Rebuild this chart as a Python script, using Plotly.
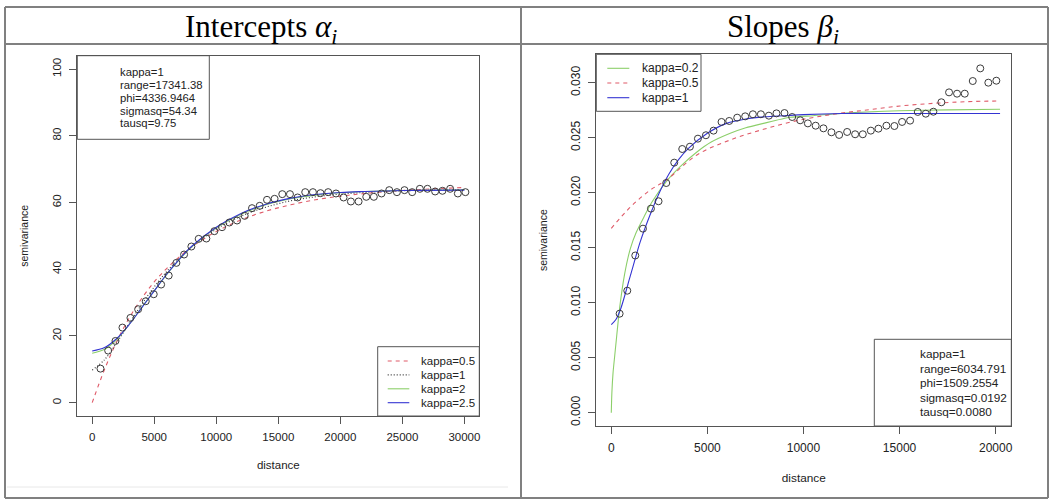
import plotly.graph_objects as go

# ---------------- data ----------------
# Left panel: intercepts, empirical semivariogram
left_lag = [668, 1288, 1876, 2440, 3084, 3704, 4316, 4960, 5556, 6167,
            6787, 7407, 7995, 8583, 9203, 9847, 10467, 11055, 11675, 12290,
            12880, 13500, 14090, 14700, 15320, 15940, 16555, 17170, 17790, 18400,
            19020, 19650, 20260, 20850, 21470, 22090, 22700, 23320, 23940, 24560,
            25170, 25790, 26410, 27020, 27640, 28230, 28850, 29470, 30080]
left_gamma = [10.2, 15.6, 18.5, 22.5, 25.4, 28.0, 30.4, 32.5, 35.4, 38.1,
              41.9, 44.4, 46.8, 49.1, 49.2, 51.4, 52.6, 54.0, 54.6, 56.0,
              58.3, 59.0, 60.8, 61.1, 62.5, 62.5, 61.5, 63.1, 63.1, 62.8,
              63.1, 62.7, 61.5, 60.3, 60.3, 61.7, 61.7, 62.7, 63.7, 63.1,
              63.7, 63.1, 64.1, 64.1, 63.3, 63.5, 64.1, 62.7, 63.1]

# Left panel fitted curves (values read at these distances)
left_curve_x = [0, 1000, 2000, 3000, 4000, 5000, 6000, 7000, 8000, 10000,
                12000, 14000, 16000, 18000, 20000, 22000, 25000, 30000]
left_k05 = [0, 10.0, 18.5, 25.5, 31.3, 36.2, 40.2, 43.6, 46.6, 51.3,
            54.8, 57.4, 59.3, 60.8, 61.9, 62.7, 63.6, 64.5]
left_k1 = [9.75, 12.9, 18.1, 23.9, 29.5, 34.7, 39.3, 43.2, 46.6, 52.0,
           55.9, 58.6, 60.5, 61.7, 62.5, 63.0, 63.5, 63.9]
left_k2 = [14.8, 16.0, 19.0, 23.5, 28.6, 33.5, 38.4, 42.8, 46.6, 52.4,
           56.5, 59.3, 61.1, 62.2, 62.9, 63.3, 63.6, 63.8]
left_k25 = [15.5, 16.5, 19.3, 23.5, 28.5, 33.5, 38.5, 42.9, 46.8, 52.6,
            56.7, 59.5, 61.3, 62.4, 63.0, 63.3, 63.6, 63.7]

# Right panel: slopes, empirical semivariogram
right_lag = [433, 832, 1248, 1648, 2064, 2460, 2860, 3276, 3692, 4092,
             4508, 4924, 5320, 5736, 6136, 6552, 6968, 7368, 7784, 8200,
             8596, 9012, 9412, 9828, 10228, 10635, 11040, 11456, 11856, 12272,
             12688, 13088, 13505, 13900, 14316, 14732, 15132, 15548, 15948, 16365,
             16760, 17176, 17576, 17992, 18393, 18809, 19200, 19620, 20036]
right_gamma = [0.0090, 0.01109, 0.01429, 0.01673, 0.01855, 0.01922, 0.02088, 0.02273, 0.02397, 0.02418,
               0.02491, 0.02522, 0.02564, 0.02643, 0.02652, 0.02682, 0.02694, 0.02713, 0.02713, 0.02700,
               0.02721, 0.02724, 0.02688, 0.02658, 0.02630, 0.02609, 0.02585, 0.02549, 0.02525, 0.02552,
               0.02531, 0.02531, 0.02564, 0.02582, 0.02609, 0.02606, 0.02643, 0.02655, 0.02734, 0.02718,
               0.02736, 0.02822, 0.02912, 0.02900, 0.02900, 0.03015, 0.03130, 0.03000, 0.03018]

# Right panel fitted curves
right_k02_x = [0, 30, 90, 180, 260, 433, 693, 988, 1300, 1700, 2100, 2900, 3600, 4456,
               5200, 6190, 7000, 7920, 9310, 10500, 12430, 15000, 17500, 20230]
right_k02_y = [0, 0.0018, 0.0036, 0.0052, 0.0066, 0.0095, 0.0126, 0.0149, 0.0164, 0.0178,
               0.0191, 0.0211, 0.0224, 0.0237, 0.0246, 0.0254, 0.0259, 0.0263, 0.02685,
               0.0270, 0.02727, 0.02745, 0.02753, 0.02758]
right_k05_x = [0, 1000, 2000, 2900, 4456, 6188, 7920, 9657, 11560, 13297, 15030, 16760, 18497, 20230]
right_k05_y = [0.01676, 0.0187, 0.0202, 0.0212, 0.02343, 0.02479, 0.02576, 0.02655, 0.02713,
               0.02752, 0.02788, 0.02812, 0.02827, 0.02834]
right_k1_x = [0, 250, 500, 1000, 1500, 2000, 2500, 3000, 3500, 4000, 5000, 6000, 7000, 8000,
              9000, 10000, 12000, 15000, 20230]
right_k1_y = [0.0080, 0.0085, 0.0095, 0.0125, 0.0155, 0.0179, 0.0200, 0.0217, 0.0230, 0.0240,
              0.0254, 0.0263, 0.0267, 0.0269, 0.0270, 0.0271, 0.0272, 0.0272, 0.0272]

left_ticks_x = [0, 5000, 10000, 15000, 20000, 25000, 30000]
left_ticks_y = [0, 20, 40, 60, 80, 100]
right_ticks_x = [0, 5000, 10000, 15000, 20000]
right_ticks_y = [0.000, 0.005, 0.010, 0.015, 0.020, 0.025, 0.030]

left_info = ["kappa=1", "range=17341.38", "phi=4336.9464", "sigmasq=54.34", "tausq=9.75"]
right_info = ["kappa=1", "range=6034.791", "phi=1509.2554", "sigmasq=0.0192", "tausq=0.0080"]

# ---------------- styling ----------------
W, H = 1053, 501
def px(x): return x / W
def py(y): return 1 - y / H

RED = "#df5a68"
GREEN = "#8ccf6a"
BLUE = "#3434d2"
DARK = "#3a3a3a"
AX = "#555555"
SANS = "Liberation Sans, Arial, sans-serif"
SERIF = "Liberation Serif, Times New Roman, serif"

fig = go.Figure()

pt_marker = dict(symbol="circle-open", size=7, color=DARK, line=dict(width=1, color=DARK))

# left panel
fig.add_trace(go.Scatter(x=left_curve_x, y=left_k05, mode="lines", line=dict(color=RED, width=1.1, dash="4px,4px", shape="spline"),
                         name="kappa=0.5", xaxis="x", yaxis="y", showlegend=False))
fig.add_trace(go.Scatter(x=left_curve_x, y=left_k1, mode="lines", line=dict(color="#333333", width=1.1, dash="1px,2px", shape="spline"),
                         name="kappa=1", xaxis="x", yaxis="y", showlegend=False))
fig.add_trace(go.Scatter(x=left_curve_x, y=left_k2, mode="lines", line=dict(color=GREEN, width=1.1, shape="spline"),
                         name="kappa=2", xaxis="x", yaxis="y", showlegend=False))
fig.add_trace(go.Scatter(x=left_curve_x, y=left_k25, mode="lines", line=dict(color=BLUE, width=1.1, shape="spline"),
                         name="kappa=2.5", xaxis="x", yaxis="y", showlegend=False))
fig.add_trace(go.Scatter(x=left_lag, y=left_gamma, mode="markers", marker=pt_marker,
                         name="empirical", xaxis="x", yaxis="y", showlegend=False))

# right panel
fig.add_trace(go.Scatter(x=right_k02_x, y=right_k02_y, mode="lines",
                         line=dict(color=GREEN, width=1.1, shape="spline", smoothing=0.6),
                         name="kappa=0.2", xaxis="x2", yaxis="y2", showlegend=False))
fig.add_trace(go.Scatter(x=right_k05_x, y=right_k05_y, mode="lines", line=dict(color=RED, width=1.1, dash="4px,4px", shape="spline"),
                         name="kappa=0.5", xaxis="x2", yaxis="y2", showlegend=False))
fig.add_trace(go.Scatter(x=right_k1_x, y=right_k1_y, mode="lines", line=dict(color=BLUE, width=1.1, shape="spline", smoothing=0.8),
                         name="kappa=1", xaxis="x2", yaxis="y2", showlegend=False))
fig.add_trace(go.Scatter(x=right_lag, y=right_gamma, mode="markers", marker=pt_marker,
                         name="empirical", xaxis="x2", yaxis="y2", showlegend=False))

def axis_common(fs):
    return dict(showline=True, mirror=True, linecolor=AX, linewidth=1,
                ticks="outside", ticklen=7, tickcolor=AX, tickwidth=1,
                showgrid=False, zeroline=False,
                tickfont=dict(family=SANS, size=fs, color="#222222"))

fig.update_layout(
    width=W, height=H, margin=dict(l=0, r=0, t=0, b=0),
    paper_bgcolor="white", plot_bgcolor="white", showlegend=False,
    xaxis=dict(domain=[px(77.3), px(479.3)], range=[-1200, 31200], anchor="y",
               tickvals=left_ticks_x, tickformat="d",
               title=dict(text="distance", font=dict(family=SANS, size=11.5, color="#222222"), standoff=19),
               ticklabelstandoff=3, **axis_common(11.5)),
    yaxis=dict(domain=[py(416), py(55.7)], range=[-4, 104], anchor="x",
               tickvals=left_ticks_y, tickangle=-90,
               title=dict(text="semivariance", font=dict(family=SANS, size=10.5, color="#222222"), standoff=20),
               ticklabelstandoff=4, **axis_common(11.5)),
    xaxis2=dict(domain=[px(596.3), px(1011.3)], range=[-780, 20815], anchor="y2",
                tickvals=right_ticks_x, tickformat="d",
                title=dict(text="distance", font=dict(family=SANS, size=11.8, color="#222222"), standoff=19),
                ticklabelstandoff=4, **axis_common(12)),
    yaxis2=dict(domain=[py(426), py(54.3)], range=[-0.00121, 0.03258], anchor="x2",
                tickvals=right_ticks_y, tickformat=".3f", tickangle=-90,
                title=dict(text="semivariance", font=dict(family=SANS, size=10.5, color="#222222"), standoff=18),
                ticklabelstandoff=4, **axis_common(12)),
)

shapes = []
def line(x0, y0, x1, y1, color, width, dash=None):
    d = dict(type="line", xref="paper", yref="paper", x0=px(x0), y0=py(y0), x1=px(x1), y1=py(y1),
             line=dict(color=color, width=width))
    if dash:
        d["line"]["dash"] = dash
    shapes.append(d)

def rect(x0, y0, x1, y1, color, width):
    shapes.append(dict(type="rect", xref="paper", yref="paper", x0=px(x0), y0=py(y1), x1=px(x1), y1=py(y0),
                       line=dict(color=color, width=width), fillcolor="rgba(0,0,0,0)"))

# table frame
TB = "#808080"
line(5, 7, 1048, 7, TB, 2)
line(5, 44, 1048, 44, TB, 2)
line(5, 498, 1048, 498, TB, 2)
line(5, 7, 5, 498, TB, 2)
line(521, 7, 521, 498, TB, 2)
line(1048, 7, 1048, 498, TB, 2)
# faint image edge under left plot
line(7, 487, 508, 487, "#e8e8e8", 1)

# info boxes and legends
rect(77.3, 55.7, 209.3, 139.3, AX, 1)
rect(874.3, 339.3, 1011.3, 426, AX, 1)
rect(377.7, 346.7, 479.3, 416, AX, 1)
rect(596.3, 54.3, 701, 111.3, AX, 1)

annotations = []
def text(x, y, s, size, family=SANS, anchor="left", color="#222222"):
    annotations.append(dict(xref="paper", yref="paper", x=px(x), y=py(y), text=s, showarrow=False,
                            xanchor=anchor, yanchor="middle", font=dict(family=family, size=size, color=color)))

# headers
text(261, 29, "Intercepts <i>α</i><sub><i>i</i></sub>", 31, family=SERIF, anchor="center", color="black")
text(783, 29, "Slopes <i>β</i><sub><i>i</i></sub>", 31, family=SERIF, anchor="center", color="black")

for i, s in enumerate(left_info):
    text(118, 72.3 + 12.75 * i, s, 11.3)
for i, s in enumerate(right_info):
    text(917.5, 354.3 + 14.5 * i, s, 11.8)

# left legend
left_leg = [("kappa=0.5", RED, "4px,4px"), ("kappa=1", "#333333", "1px,2px"),
            ("kappa=2", GREEN, None), ("kappa=2.5", BLUE, None)]
for i, (lab, col, dash) in enumerate(left_leg):
    yy = 361 + 13.9 * i
    line(387.7, yy, 409.3, yy, col, 1.1, dash)
    text(419, yy, lab, 11.5)

right_leg = [("kappa=0.2", GREEN, None), ("kappa=0.5", RED, "4px,4px"), ("kappa=1", BLUE, None)]
for i, (lab, col, dash) in enumerate(right_leg):
    yy = 68.3 + 14.7 * i
    line(607.3, yy, 629.3, yy, col, 1.1, dash)
    text(639.5, yy, lab, 12)

fig.update_layout(shapes=shapes, annotations=annotations)
fig.write_html("out.html")
